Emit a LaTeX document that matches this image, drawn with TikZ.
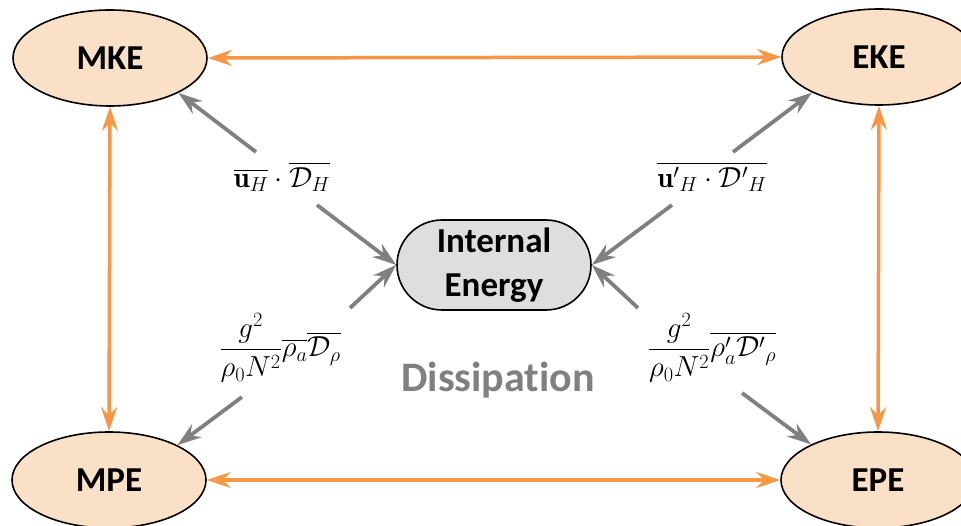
\RequirePackage{fix-cm}
\documentclass[tikz,border=0pt]{standalone}
\usepackage{amsmath}
\usepackage{fontspec}
\newfontfamily\calib[Ligatures=NoCommon]{Carlito}
\usetikzlibrary{arrows.meta,shapes.geometric}
\definecolor{orng}{HTML}{F79646}
\definecolor{peach}{HTML}{FBE0C8}
\definecolor{grayc}{HTML}{808080}
\definecolor{iefill}{HTML}{DEDEDE}
\tikzset{
  energy/.style={ellipse, draw=black, line width=1.6pt, fill=peach, minimum width=194pt, minimum height=96pt, inner sep=0pt, font=\calib\bfseries\fontsize{35}{42}\selectfont},
  iebox/.style={rectangle, rounded corners=45pt, draw=black, line width=1.6pt, fill=iefill, minimum width=194pt, minimum height=90pt, inner sep=0pt, align=center, font=\calib\bfseries\fontsize{35}{44}\selectfont},
  oarrow/.style={draw=orng, line width=3.5pt, {Stealth[length=24pt,width=16pt,inset=8pt]}-{Stealth[length=24pt,width=16pt,inset=8pt]}},
  garrow/.style={draw=grayc, line width=3.8pt, -{Stealth[length=24pt,width=16pt,inset=8pt]}},
  mathlbl/.style={inner sep=0pt, font=\fontsize{29}{35}\selectfont},
}
\begin{document}
\begin{tikzpicture}[x=1pt,y=-1pt]
\clip (0,0) rectangle (961,526);
\useasboundingbox (0,0) rectangle (961,526);
\node[energy] (MKE) at (110,58) {MKE};
\node[energy] (EKE) at (879,57) {EKE};
\node[energy] (MPE) at (109,480) {MPE};
\node[energy] (EPE) at (878,480) {EPE};
\node[iebox] (IE) at (494,265) {Internal\\Energy};
\node[inner sep=0pt, text=grayc, font=\calib\bfseries\fontsize{42}{50}\selectfont] (diss) at (498,380) {Dissipation};

\draw[oarrow] (MKE.east) -- (EKE.west);
\draw[oarrow] (MPE.east) -- (EPE.west);
\draw[oarrow] (MKE.south) -- (MPE.north);
\draw[oarrow] (EKE.south) -- (EPE.north);

\node[mathlbl] (L1) at (282,177) {$\overline{\mathbf{u}_H}\cdot\overline{\mathcal{D}_H}$};
\node[mathlbl] (L2) at (712,177) {$\overline{{\mathbf{u}'}_H\cdot{\mathcal{D}'}_H}$};
\node[mathlbl] (L3) at (280,348) {$\displaystyle\frac{g^2}{\rho_0N^2}\overline{\rho_a}\overline{\mathcal{D}_\rho}$};
\node[mathlbl] (L4) at (712,348) {$\displaystyle\frac{g^2}{\rho_0N^2}\overline{\rho'_a{\mathcal{D}'}_\rho}$};

\coordinate (a1) at (256,152);
\coordinate (a2) at (317,205);
\coordinate (b1) at (733,152);
\coordinate (b2) at (672,205);
\coordinate (c1) at (350,308);
\coordinate (c2) at (242,397);
\coordinate (d1) at (638,308);
\coordinate (d2) at (742,393);

\draw[garrow] (a1) -- (MKE.-27);
\draw[garrow] (a2) -- (IE.west);
\draw[garrow] (b1) -- (EKE.-152);
\draw[garrow] (b2) -- (IE.east);
\draw[garrow] (c1) -- (IE.west);
\draw[garrow] (c2) -- (MPE.27);
\draw[garrow] (d1) -- (IE.east);
\draw[garrow] (d2) -- (EPE.152);
\end{tikzpicture}
\end{document}
